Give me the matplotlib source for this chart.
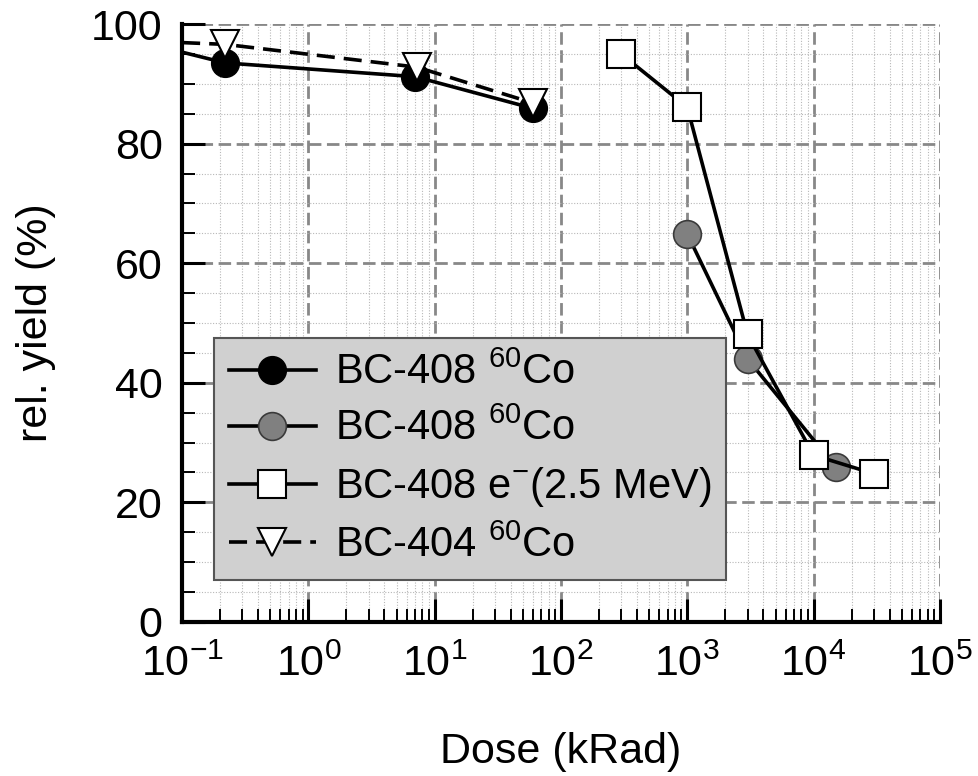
import matplotlib as mpl
mpl.use("Agg")
from matplotlib import pyplot as plt
from matplotlib.ticker import MultipleLocator, LogLocator, NullFormatter

# data (dose in kRad, relative yield in %)
# first entry of the 60Co series only carries the line to the left edge (no marker)
dose_bc408_co = [0.1, 0.22, 7.0, 60]
yield_bc408_co = [95.3, 93.5, 91.2, 85.9]

dose_bc404_co = [0.1, 0.22, 7.2, 60]
yield_bc404_co = [96.9, 96.6, 92.8, 86.8]

dose_bc408_co2 = [1000, 3000, 15000]
yield_bc408_co2 = [64.9, 44.0, 25.9]

dose_bc408_e = [300, 1000, 3000, 10000, 30000]
yield_bc408_e = [95.0, 86.1, 48.1, 27.9, 24.8]

labels = ["BC-408 $^{60}$Co", "BC-408 $^{60}$Co",
          "BC-408 e$^{-}$(2.5 MeV)", "BC-404 $^{60}$Co"]

plt.rcParams["font.family"] = ["Liberation Sans", "DejaVu Sans"]
plt.rcParams["mathtext.default"] = "regular"
plt.rcParams["font.size"] = 31

fig = plt.figure(figsize=(9.79, 7.76), dpi=100)
ax = fig.add_axes([0.186, 0.1985, 0.774, 0.7705])

lw = 2.6
ms = 20

l_grey, = ax.plot(dose_bc408_co2, yield_bc408_co2, "-o", color="black", lw=lw,
                  ms=ms, mfc="#808080", mec="#3a3a3a", mew=1.2, zorder=3)
l_sq, = ax.plot(dose_bc408_e, yield_bc408_e, "-s", color="black", lw=lw,
                ms=ms, mfc="white", mec="black", mew=1.5, zorder=4)
l_blk, = ax.plot(dose_bc408_co, yield_bc408_co, "-o", color="black", lw=lw,
                 ms=ms, mfc="black", mec="black", markevery=[1, 2, 3], zorder=3)
l_tri, = ax.plot(dose_bc404_co, yield_bc404_co, "v", color="black", lw=lw,
                 ls=(0, (5, 2.5)), ms=ms, mfc="white", mec="black", mew=1.5,
                 markevery=[1, 2, 3], zorder=4)

ax.set_xscale("log")
ax.set_xlim(0.1, 1e5)
ax.set_ylim(0, 100)
ax.xaxis.set_major_locator(LogLocator(base=10, numticks=10))
ax.xaxis.set_minor_locator(LogLocator(base=10, subs=range(2, 10), numticks=20))
ax.xaxis.set_minor_formatter(NullFormatter())
ax.yaxis.set_major_locator(MultipleLocator(20))
ax.yaxis.set_minor_locator(MultipleLocator(5))

ax.grid(which="major", color="#888888", lw=2.0, ls=(0, (4.5, 2)), zorder=0)
ax.grid(which="minor", color="#b8b8b8", lw=0.8, ls=(0, (1, 1.5)), zorder=0)
ax.set_axisbelow(True)

for side in ["top", "right"]:
    ax.spines[side].set_visible(False)
for side in ["left", "bottom"]:
    ax.spines[side].set_linewidth(3)

ax.tick_params(which="major", direction="in", length=16.5, width=2.2,
               top=False, right=False, pad=14)
ax.tick_params(which="minor", direction="in", length=9.5, width=1.4,
               top=False, right=False)
ax.tick_params(axis="x", which="major", pad=16)

ax.set_xlabel("Dose (kRad)", labelpad=34)
ax.set_ylabel("rel. yield (%)", labelpad=25)

leg = ax.legend([l_blk, l_grey, l_sq, l_tri], labels, loc="lower left",
                bbox_to_anchor=(0.042, 0.07), borderaxespad=0, fancybox=False,
                framealpha=1, facecolor="#d0d0d0", edgecolor="#555555",
                handlelength=2.1, handletextpad=0.45, labelspacing=0.38,
                borderpad=0.35, fontsize=30)
leg.get_frame().set_linewidth(1.5)
leg.set_zorder(5)

fig.savefig("out.png", dpi=100)
